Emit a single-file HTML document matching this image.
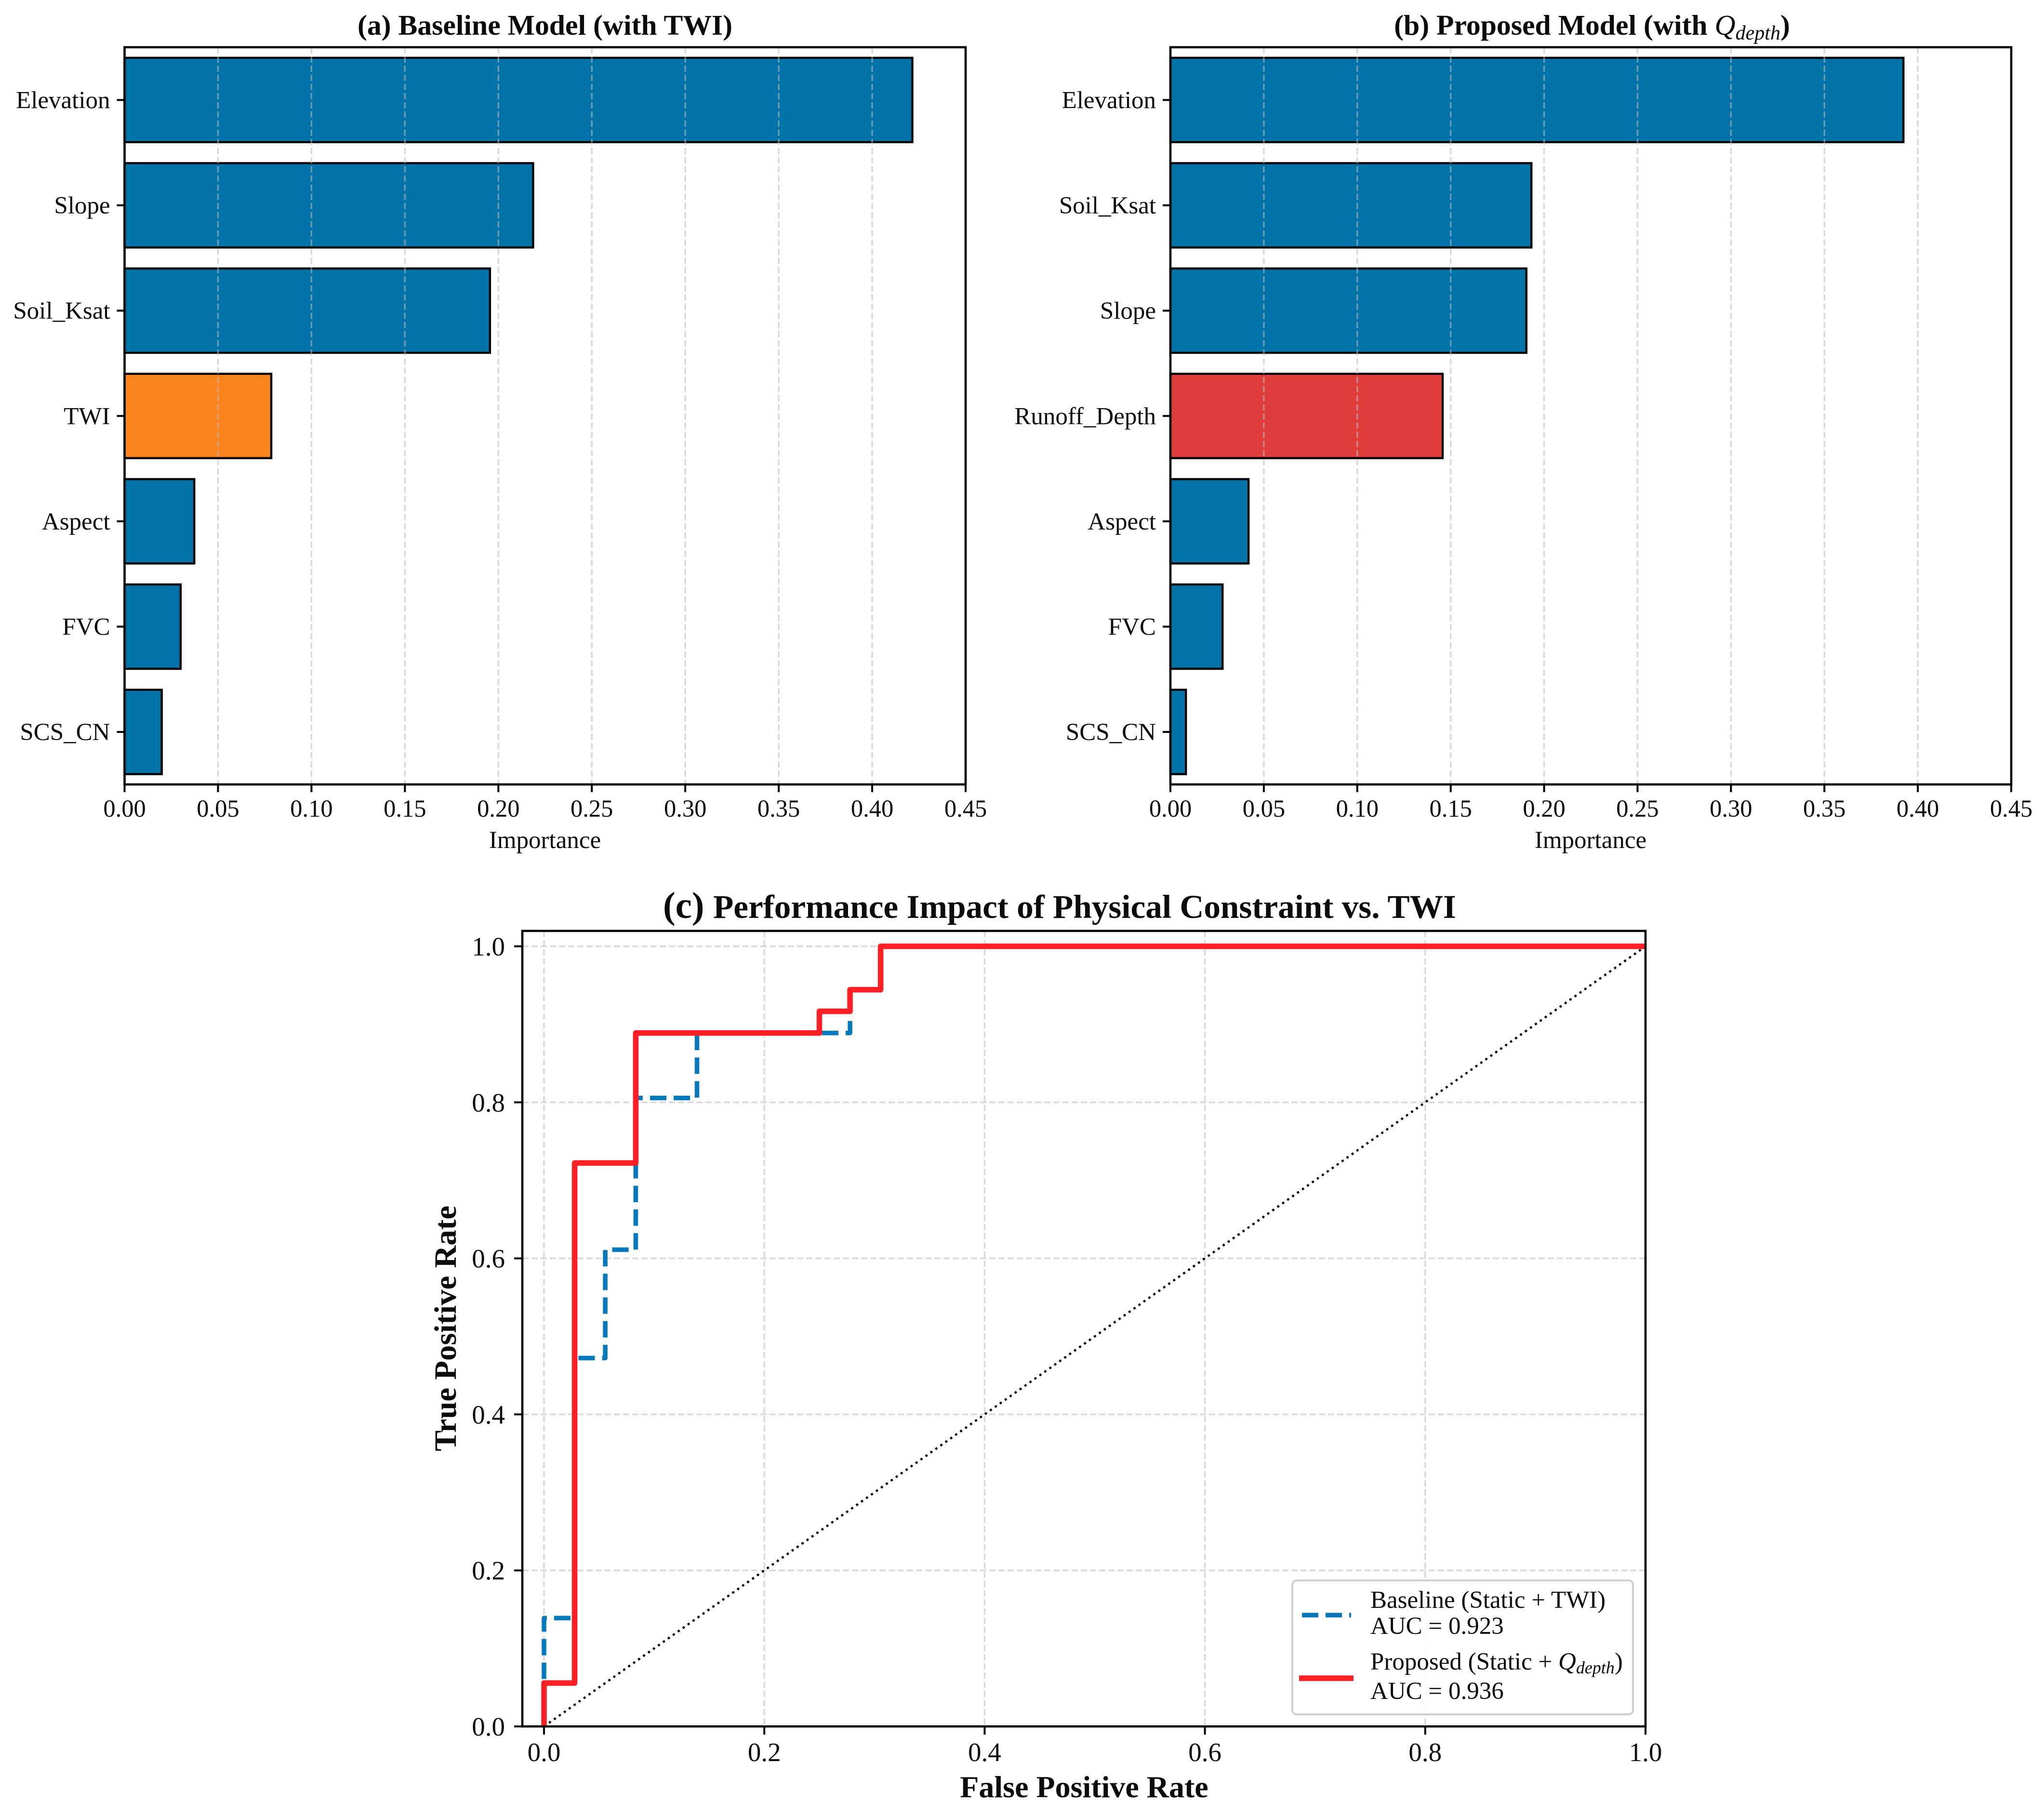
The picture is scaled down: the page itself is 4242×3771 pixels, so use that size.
<!DOCTYPE html>
<html lang="en">
<head>
<meta charset="utf-8">
<title>Feature importance and ROC comparison</title>
<style>
html,body{margin:0;padding:0;background:#fff}
svg{display:block}
text{font-family:"Liberation Serif","Noto Serif CJK SC",serif;fill:#0c0c0c}
</style>
</head>
<body>
<svg id="figure" xmlns="http://www.w3.org/2000/svg" width="4242" height="3771" viewBox="0 0 4242 3771">
  <rect x="0" y="0" width="4242" height="3771" fill="#fefefe"/>

  <g id="panelA"></g>
  <g id="panelB"></g>
  <g id="panelC"></g>

  <text x="1131" y="72" text-anchor="middle" font-size="59.7" font-weight="bold">(a) Baseline Model (with TWI)</text>
  <text x="3304" y="72" text-anchor="middle" font-size="59.7" font-weight="bold">(b) Proposed Model (with <tspan font-style="italic" font-weight="normal">Q</tspan><tspan font-style="italic" font-weight="normal" font-size="42" dy="10">depth</tspan><tspan dy="-10">)</tspan></text>
  <text x="1131" y="1760" text-anchor="middle" font-size="51">Importance</text>
  <text x="3301" y="1760" text-anchor="middle" font-size="51">Importance</text>

  <text y="1905" font-weight="bold"><tspan x="1376" font-size="77">(c)</tspan><tspan x="1480" font-size="69.2">Performance Impact of Physical Constraint vs. TWI</tspan></text>
  <text x="2250" y="3730" text-anchor="middle" font-size="64" font-weight="bold">False Positive Rate</text>
  <text transform="translate(946,2757) rotate(-90)" text-anchor="middle" font-size="64.8" font-weight="bold">True Positive Rate</text>

  <g>
    <rect x="2682" y="3280" width="707" height="278" rx="9" ry="9" fill="#ffffff" fill-opacity="0.88" stroke="#cfcfcf" stroke-width="4"/>
    <line x1="2702" y1="3352" x2="2804" y2="3352" stroke="#0579bb" stroke-width="9.5" stroke-dasharray="34 15"/>
    <text x="2844" y="3337" font-size="51">Baseline (Static + TWI)</text>
    <text x="2844" y="3391" font-size="51">AUC = 0.923</text>
    <line x1="2696" y1="3483" x2="2809" y2="3483" stroke="#fd1f24" stroke-width="11.5"/>
    <text x="2844" y="3465" font-size="51">Proposed (Static + <tspan font-style="italic">Q</tspan><tspan font-style="italic" font-size="36" dy="8">depth</tspan><tspan dy="-8">)</tspan></text>
    <text x="2844" y="3526" font-size="51">AUC = 0.936</text>
  </g>
</svg>

<script>
// ---- Chart data ----
const categoriesA = ['Elevation', 'Slope', 'Soil_Ksat', 'TWI', 'Aspect', 'FVC', 'SCS_CN'];
const importanceA = [0.4215, 0.2186, 0.1955, 0.0785, 0.0373, 0.0300, 0.0199];
const categoriesB = ['Elevation', 'Soil_Ksat', 'Slope', 'Runoff_Depth', 'Aspect', 'FVC', 'SCS_CN'];
const importanceB = [0.3923, 0.1932, 0.1905, 0.1457, 0.0418, 0.0279, 0.0083];
const importanceTicks = [0, 0.05, 0.10, 0.15, 0.20, 0.25, 0.30, 0.35, 0.40, 0.45];
const rocTicks = [0, 0.2, 0.4, 0.6, 0.8, 1.0];
const fprBaseline = [0, 0, 0.0278, 0.0278, 0.0556, 0.0556, 0.0833, 0.0833, 0.1389, 0.1389, 0.2778, 0.2778, 0.3056, 0.3056, 1];
const tprBaseline = [0, 0.1389, 0.1389, 0.4722, 0.4722, 0.6111, 0.6111, 0.8056, 0.8056, 0.8889, 0.8889, 0.9444, 0.9444, 1, 1];
const fprProposed = [0, 0, 0.0278, 0.0278, 0.0833, 0.0833, 0.25, 0.25, 0.2778, 0.2778, 0.3056, 0.3056, 1];
const tprProposed = [0, 0.0556, 0.0556, 0.7222, 0.7222, 0.8889, 0.8889, 0.9167, 0.9167, 0.9444, 0.9444, 1, 1];
const fprChance = [0, 1];
const tprChance = [0, 1];

// ---- Drawing helpers ----
const NS = 'http://www.w3.org/2000/svg';
function make(tag, attrs, parent, content) {
  const el = document.createElementNS(NS, tag);
  for (const k in attrs) el.setAttribute(k, attrs[k]);
  if (content !== undefined) el.textContent = content;
  parent.appendChild(el);
  return el;
}
const GRID = { stroke: '#bbbbbb', 'stroke-opacity': 0.55, 'stroke-width': 3.5, 'stroke-dasharray': '13 6' };
const SPINE = { fill: 'none', stroke: '#000', 'stroke-width': 4.6 };

function drawBarPanel(root, prefix, categories, values, highlight, highlightColor, left, right) {
  const top = 98, bottom = 1628, xMax = 0.45;
  const xScale = v => left + (v / xMax) * (right - left);
  const yScale = i => 207.5 + i * 218.6;
  const barH = 175;

  values.forEach((v, i) => {
    const bar = make('rect', {
      x: xScale(0), y: yScale(i) - barH / 2,
      width: xScale(v) - xScale(0), height: barH,
      fill: categories[i] === highlight ? highlightColor : '#0073a8',
      stroke: '#000', 'stroke-width': 4.4
    }, root);
    
    
  });

  importanceTicks.forEach(t => {
    const x = xScale(t);
    if (t > 0 && t < xMax) {
      const g = make('line', Object.assign({ x1: x, x2: x, y1: top, y2: bottom }, GRID), root);
      
      
    }
    const tick = make('line', { x1: x, x2: x, y1: bottom, y2: bottom + 16, stroke: '#000', 'stroke-width': 4 }, root);
    
    
    const label = make('text', { x: x, y: bottom + 67, 'text-anchor': 'middle', 'font-size': 50.5 }, root, t.toFixed(2));
    
    
  });

  categories.forEach((c, i) => {
    const y = yScale(i);
    const tick = make('line', { x1: left - 16, x2: left, y1: y, y2: y, stroke: '#000', 'stroke-width': 4 }, root);
    
    
    const label = make('text', { x: left - 30, y: y + 17, 'text-anchor': 'end', 'font-size': 51 }, root, c);
    
    
  });

  const frame = make('rect', Object.assign({ x: left, y: top, width: right - left, height: bottom - top }, SPINE), root);
  
  
}

function drawRocPanel(root) {
  const x0 = 1129, x1 = 3415, y0 = 3583, y1 = 1964;
  const frameLeft = 1084, frameTop = 1932;
  const xScale = v => x0 + v * (x1 - x0);
  const yScale = v => y0 - v * (y0 - y1);
  const pts = (xs, ys) => xs.map((x, i) => xScale(x).toFixed(1) + ',' + yScale(ys[i]).toFixed(1)).join(' ');

  rocTicks.forEach(t => {
    const x = xScale(t), y = yScale(t);
    const gv = make('line', Object.assign({ x1: x, x2: x, y1: frameTop, y2: y0 }, GRID), root);
    
    
    const gh = make('line', Object.assign({ x1: frameLeft, x2: x1, y1: y, y2: y }, GRID), root);
    
    
    const tx = make('line', { x1: x, x2: x, y1: y0, y2: y0 + 17, stroke: '#000', 'stroke-width': 4 }, root);
    
    
    const ty = make('line', { x1: frameLeft - 17, x2: frameLeft, y1: y, y2: y, stroke: '#000', 'stroke-width': 4 }, root);
    
    
    const lx = make('text', { x: x, y: y0 + 72, 'text-anchor': 'middle', 'font-size': 55 }, root, t.toFixed(1));
    
    
    const ly = make('text', { x: 1048, y: y + 19, 'text-anchor': 'end', 'font-size': 55 }, root, t.toFixed(1));
    
    
  });

  const chance = make('polyline', { points: pts(fprChance, tprChance), fill: 'none', stroke: '#000', 'stroke-width': 4.5, 'stroke-dasharray': '4.7 7.9' }, root);
  
  

  const base = make('polyline', { points: pts(fprBaseline, tprBaseline), fill: 'none', stroke: '#0579bb', 'stroke-width': 9.5, 'stroke-dasharray': '34.1 15.07', 'stroke-linejoin': 'round' }, root);
  
  

  const prop = make('polyline', { points: pts(fprProposed, tprProposed), fill: 'none', stroke: '#fd1f24', 'stroke-width': 11.5, 'stroke-linejoin': 'round' }, root);
  
  

  const frame = make('rect', Object.assign({ x: frameLeft, y: frameTop, width: x1 - frameLeft, height: y0 - frameTop }, SPINE), root);
  
  
}

drawBarPanel(document.getElementById('panelA'), 'panel-a', categoriesA, importanceA, 'TWI', '#fd841d', 258.5, 2004);
drawBarPanel(document.getElementById('panelB'), 'panel-b', categoriesB, importanceB, 'Runoff_Depth', '#df3c3c', 2429, 4174);
drawRocPanel(document.getElementById('panelC'));
</script>
</body>
</html>
